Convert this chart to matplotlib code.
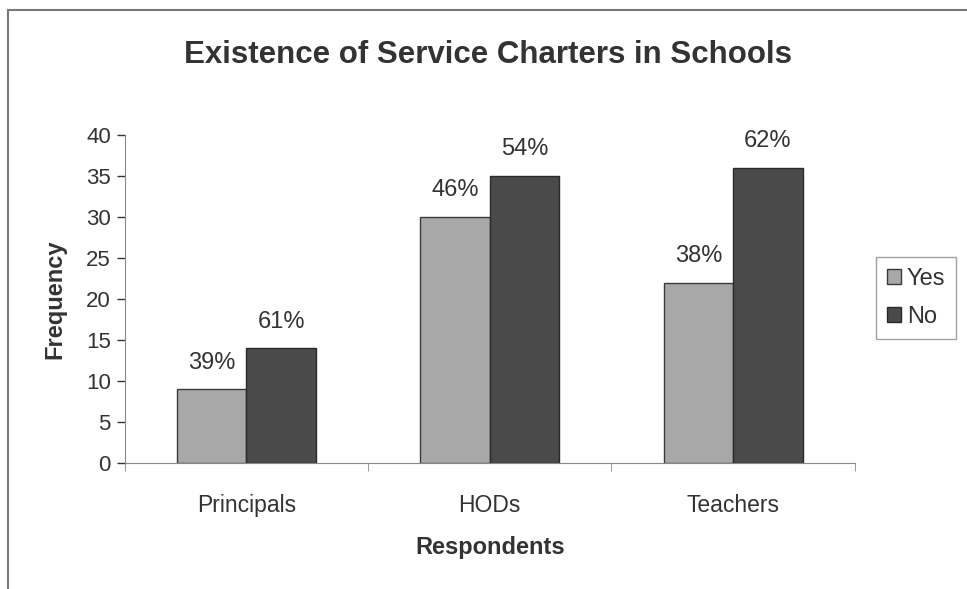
import matplotlib
matplotlib.use("Agg")
from matplotlib import pyplot as plt
from matplotlib.patches import Rectangle
import numpy as np

plt.rcParams['font.family'] = ['Liberation Sans', 'DejaVu Sans']

respondents = ["Principals", "HODs", "Teachers"]
yes_counts = [9, 30, 22]
no_counts = [14, 35, 36]
yes_pct = ["39%", "46%", "38%"]
no_pct = ["61%", "54%", "62%"]

fig = plt.figure(figsize=(9.67, 5.89), dpi=100)
ax = fig.add_axes([0.129, 0.214, 0.755, 0.557])

x = np.arange(len(respondents))
w = 0.286
yes_bars = ax.bar(x - w / 2, yes_counts, w, color="#a8a8a8", edgecolor="#3a3a3a", linewidth=1, label="Yes")
no_bars = ax.bar(x + w / 2, no_counts, w, color="#4a4a4a", edgecolor="#2a2a2a", linewidth=1, label="No")

for bar, txt in zip(yes_bars, yes_pct):
    ax.text(bar.get_x() + bar.get_width() / 2, bar.get_height() + 1.9, txt,
            ha="center", va="bottom", fontsize=17, color="#333333")
for bar, txt in zip(no_bars, no_pct):
    ax.text(bar.get_x() + bar.get_width() / 2, bar.get_height() + 1.9, txt,
            ha="center", va="bottom", fontsize=17, color="#333333")

ax.set_xlim(-0.5, 2.5)
ax.set_ylim(0, 40)
ax.set_yticks(range(0, 41, 5))
ax.set_xticks(x)
ax.set_xticklabels(respondents, fontsize=16.5, color="#333333")
ax.tick_params(axis="y", labelsize=16, colors="#333333", direction="out", length=6, width=1, pad=4)
ax.tick_params(axis="x", length=0, pad=22)
# category boundary ticks
ax.set_xticks([-0.5, 0.5, 1.5, 2.5], minor=True)
ax.tick_params(axis="x", which="minor", length=6, direction="out", color="#888888")

for s in ["top", "right"]:
    ax.spines[s].set_visible(False)
ax.spines["left"].set_color("#888888")
ax.spines["bottom"].set_color("#888888")

ax.set_xlabel("Respondents", fontsize=17, fontweight="bold", color="#333333", labelpad=14)
ax.set_ylabel("Frequency", fontsize=17, fontweight="bold", color="#333333", labelpad=14)

fig.text(0.505, 0.907, "Existence of Service Charters in Schools", ha="center", va="center",
         fontsize=22.5, fontweight="bold", color="#333333")

leg = fig.legend(handles=[yes_bars, no_bars], labels=["Yes", "No"], loc="center left",
                 bbox_to_anchor=(0.906, 0.494), fontsize=17, frameon=True, fancybox=False,
                 handlelength=0.6, handleheight=0.6, handletextpad=0.25, borderpad=0.45,
                 borderaxespad=0, labelspacing=0.7, labelcolor="#333333")
leg.get_frame().set_edgecolor("#888888")
leg.get_frame().set_linewidth(1)

# outer chart border
fig.patches.append(Rectangle((0.008, -0.01), 1.0, 0.993, transform=fig.transFigure,
                             fill=False, edgecolor="#777777", linewidth=1.5))

fig.savefig("out.png", dpi=100)
